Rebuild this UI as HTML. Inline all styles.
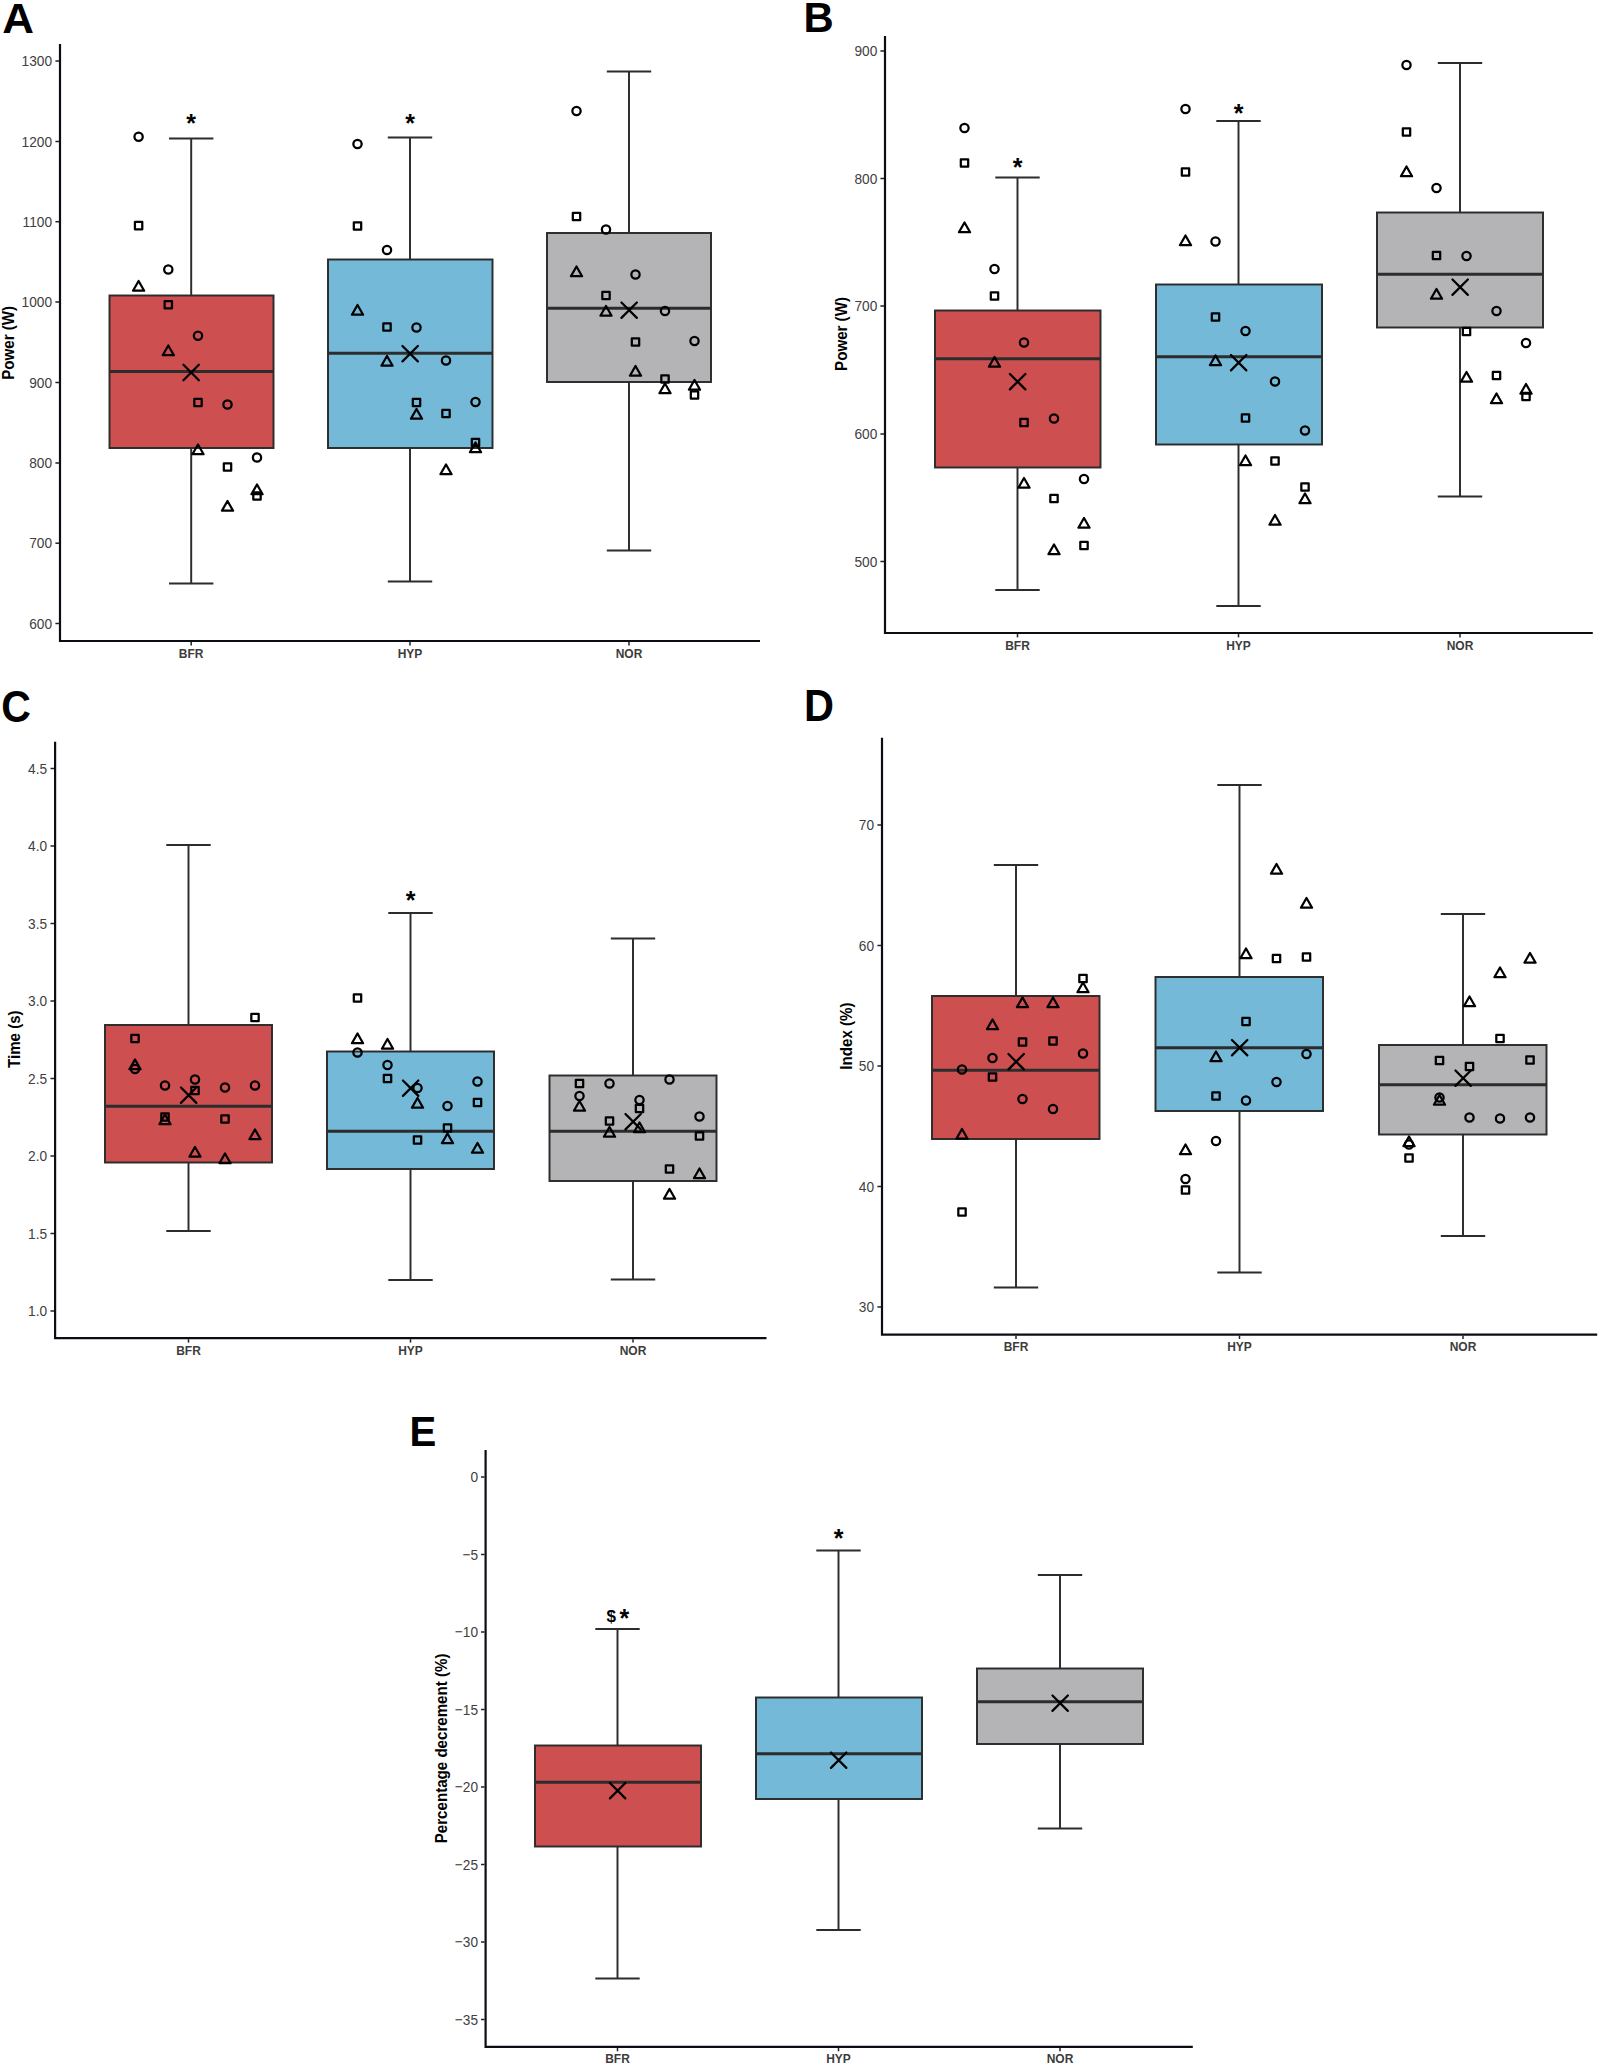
<!DOCTYPE html>
<html><head><meta charset="utf-8"><title>Figure</title>
<style>
html,body{margin:0;padding:0;background:#fff}
body{width:1600px;height:2066px;overflow:hidden}
svg{display:block;font-family:"Liberation Sans",sans-serif}
.tk{font-size:13.7px;fill:#404040}
.xl{font-size:12px;font-weight:bold;fill:#3c3c3c}
.yl{font-size:15.1px;font-weight:bold;fill:#000}
.pl{font-size:43px;font-weight:bold;fill:#000}
.an{font-size:25px;font-weight:bold;fill:#000}
.dl{font-size:17px;font-weight:bold;fill:#000}
</style></head><body>
<svg width="1600" height="2066" viewBox="0 0 1600 2066">
<rect width="1600" height="2066" fill="#fff"/>
<g fill="none" stroke="#2c2c2c" stroke-width="1.95">
<path d="M191.2 138.5V295M191.2 447.5V583.5M169.0 138.5H213.39999999999998M169.0 583.5H213.39999999999998"/>
<path d="M410 137.5V259M410 447.5V581.5M387.8 137.5H432.2M387.8 581.5H432.2"/>
<path d="M629 71.5V232.5M629 381.5V550.5M606.8 71.5H651.2M606.8 550.5H651.2"/>
</g>
<rect x="109.5" y="295.5" width="164.0" height="152.5" fill="#cd4f50" stroke="#2c2c2c" stroke-width="1.95"/>
<path d="M109.5 371.5H273.5" stroke="#2c2c2c" stroke-width="3.1" fill="none"/>
<rect x="328" y="259.5" width="164.5" height="188.5" fill="#74b9d7" stroke="#2c2c2c" stroke-width="1.95"/>
<path d="M328 353.3H492.5" stroke="#2c2c2c" stroke-width="3.1" fill="none"/>
<rect x="547" y="233.0" width="164" height="149.0" fill="#b4b4b6" stroke="#2c2c2c" stroke-width="1.95"/>
<path d="M547 308.3H711" stroke="#2c2c2c" stroke-width="3.1" fill="none"/>
<g fill="none" stroke="#000" stroke-width="2.25" stroke-linejoin="round">
<circle cx="138.6" cy="136.8" r="4.15"/>
<rect x="134.92" y="221.92" width="7.36" height="7.36"/>
<path d="M138.60 281.05L144.19 290.73L133.01 290.73Z"/>
<circle cx="168.3" cy="269.5" r="4.15"/>
<rect x="164.62" y="301.02" width="7.36" height="7.36"/>
<path d="M168.30 345.55L173.89 355.23L162.71 355.23Z"/>
<circle cx="198.0" cy="335.7" r="4.15"/>
<rect x="194.32" y="398.82" width="7.36" height="7.36"/>
<path d="M198.00 444.55L203.59 454.23L192.41 454.23Z"/>
<circle cx="227.5" cy="404.5" r="4.15"/>
<rect x="223.82" y="463.32" width="7.36" height="7.36"/>
<path d="M227.50 501.05L233.09 510.73L221.91 510.73Z"/>
<circle cx="257.0" cy="457.5" r="4.15"/>
<path d="M257.00 484.55L262.59 494.23L251.41 494.23Z"/>
<rect x="253.32" y="492.32" width="7.36" height="7.36"/>
<circle cx="357.5" cy="144.0" r="4.15"/>
<rect x="353.82" y="222.32" width="7.36" height="7.36"/>
<path d="M357.50 305.05L363.09 314.73L351.91 314.73Z"/>
<circle cx="387.0" cy="250.0" r="4.15"/>
<rect x="383.32" y="323.32" width="7.36" height="7.36"/>
<path d="M387.00 356.05L392.59 365.73L381.41 365.73Z"/>
<circle cx="416.5" cy="327.5" r="4.15"/>
<rect x="412.82" y="398.82" width="7.36" height="7.36"/>
<path d="M416.50 409.05L422.09 418.73L410.91 418.73Z"/>
<circle cx="446.0" cy="360.5" r="4.15"/>
<rect x="442.32" y="409.82" width="7.36" height="7.36"/>
<path d="M446.00 464.55L451.59 474.23L440.41 474.23Z"/>
<circle cx="475.5" cy="402.0" r="4.15"/>
<rect x="471.82" y="438.82" width="7.36" height="7.36"/>
<path d="M475.50 442.55L481.09 452.23L469.91 452.23Z"/>
<circle cx="576.5" cy="111.0" r="4.15"/>
<rect x="572.82" y="212.82" width="7.36" height="7.36"/>
<path d="M576.50 266.55L582.09 276.23L570.91 276.23Z"/>
<circle cx="606.0" cy="229.5" r="4.15"/>
<rect x="602.32" y="291.82" width="7.36" height="7.36"/>
<path d="M606.00 306.05L611.59 315.73L600.41 315.73Z"/>
<circle cx="635.5" cy="274.5" r="4.15"/>
<rect x="631.82" y="338.32" width="7.36" height="7.36"/>
<path d="M635.50 366.05L641.09 375.73L629.91 375.73Z"/>
<circle cx="665.0" cy="311.0" r="4.15"/>
<rect x="661.32" y="375.32" width="7.36" height="7.36"/>
<path d="M665.00 383.55L670.59 393.23L659.41 393.23Z"/>
<circle cx="694.5" cy="341.0" r="4.15"/>
<path d="M694.50 380.05L700.09 389.73L688.91 389.73Z"/>
<rect x="690.82" y="391.32" width="7.36" height="7.36"/>
</g>
<g fill="none" stroke="#000" stroke-width="2.25" stroke-linecap="round">
<path d="M183.45 364.80L198.85 380.20M183.45 380.20L198.85 364.80"/>
<path d="M402.45 346.00L417.85 361.40M402.45 361.40L417.85 346.00"/>
<path d="M621.45 302.50L636.85 317.90M621.45 317.90L636.85 302.50"/>
</g>
<path d="M60 44V642.1M58.9 641H760" stroke="#0c0c14" stroke-width="2.2" fill="none"/>
<g stroke="#222" stroke-width="1.5" fill="none">
<path d="M55.4 61H59"/>
<path d="M55.4 141.5H59"/>
<path d="M55.4 221.7H59"/>
<path d="M55.4 302H59"/>
<path d="M55.4 382.5H59"/>
<path d="M55.4 463H59"/>
<path d="M55.4 543.2H59"/>
<path d="M55.4 623.5H59"/>
<path d="M191.2 642V645.4"/>
<path d="M410 642V645.4"/>
<path d="M629 642V645.4"/>
</g>
<g class="tk" text-anchor="end">
<text transform="translate(52 66.2) scale(1 1.1)">1300</text>
<text transform="translate(52 146.7) scale(1 1.1)">1200</text>
<text transform="translate(52 226.9) scale(1 1.1)">1100</text>
<text transform="translate(52 307.2) scale(1 1.1)">1000</text>
<text transform="translate(52 387.7) scale(1 1.1)">900</text>
<text transform="translate(52 468.2) scale(1 1.1)">800</text>
<text transform="translate(52 548.4) scale(1 1.1)">700</text>
<text transform="translate(52 628.7) scale(1 1.1)">600</text>
</g>
<g class="xl" text-anchor="middle">
<text transform="translate(191.2 657.5) scale(1 1.06)">BFR</text>
<text transform="translate(410 657.5) scale(1 1.06)">HYP</text>
<text transform="translate(629 657.5) scale(1 1.06)">NOR</text>
</g>
<text class="yl" text-anchor="middle" transform="translate(14.4 342.8) rotate(-90) scale(1 1.13)">Power (W)</text>
<text class="pl" transform="translate(2.23 32.65) scale(1.021 1.005)">A</text>
<text class="an" text-anchor="middle" x="191" y="132.3">*</text>
<text class="an" text-anchor="middle" x="410" y="132.3">*</text>
<g fill="none" stroke="#2c2c2c" stroke-width="1.95">
<path d="M1017.5 177.5V310M1017.5 467V590M995.3 177.5H1039.7M995.3 590H1039.7"/>
<path d="M1238.5 121V284M1238.5 444V606M1216.3 121H1260.7M1216.3 606H1260.7"/>
<path d="M1460 63V212M1460 327V496.5M1437.8 63H1482.2M1437.8 496.5H1482.2"/>
</g>
<rect x="935" y="310.5" width="165.5" height="157.0" fill="#cd4f50" stroke="#2c2c2c" stroke-width="1.95"/>
<path d="M935 358.8H1100.5" stroke="#2c2c2c" stroke-width="3.1" fill="none"/>
<rect x="1156" y="284.5" width="166" height="160.0" fill="#74b9d7" stroke="#2c2c2c" stroke-width="1.95"/>
<path d="M1156 356.8H1322" stroke="#2c2c2c" stroke-width="3.1" fill="none"/>
<rect x="1377" y="212.5" width="166" height="115.0" fill="#b4b4b6" stroke="#2c2c2c" stroke-width="1.95"/>
<path d="M1377 274.3H1543" stroke="#2c2c2c" stroke-width="3.1" fill="none"/>
<g fill="none" stroke="#000" stroke-width="2.25" stroke-linejoin="round">
<circle cx="964.5" cy="128.0" r="4.15"/>
<rect x="960.82" y="159.32" width="7.36" height="7.36"/>
<path d="M964.50 222.55L970.09 232.23L958.91 232.23Z"/>
<circle cx="994.5" cy="269.0" r="4.15"/>
<rect x="990.82" y="292.32" width="7.36" height="7.36"/>
<path d="M994.50 357.05L1000.09 366.73L988.91 366.73Z"/>
<circle cx="1024.0" cy="342.5" r="4.15"/>
<rect x="1020.32" y="418.82" width="7.36" height="7.36"/>
<path d="M1024.00 478.05L1029.59 487.73L1018.41 487.73Z"/>
<circle cx="1054.0" cy="418.5" r="4.15"/>
<rect x="1050.32" y="494.82" width="7.36" height="7.36"/>
<path d="M1054.00 544.55L1059.59 554.23L1048.41 554.23Z"/>
<circle cx="1084.0" cy="479.0" r="4.15"/>
<path d="M1084.00 518.05L1089.59 527.73L1078.41 527.73Z"/>
<rect x="1080.32" y="541.82" width="7.36" height="7.36"/>
<circle cx="1185.5" cy="109.0" r="4.15"/>
<rect x="1181.82" y="168.32" width="7.36" height="7.36"/>
<path d="M1185.50 235.55L1191.09 245.23L1179.91 245.23Z"/>
<circle cx="1215.5" cy="241.5" r="4.15"/>
<rect x="1211.82" y="313.32" width="7.36" height="7.36"/>
<path d="M1215.50 355.55L1221.09 365.23L1209.91 365.23Z"/>
<circle cx="1245.5" cy="331.0" r="4.15"/>
<rect x="1241.82" y="414.32" width="7.36" height="7.36"/>
<path d="M1245.50 455.55L1251.09 465.23L1239.91 465.23Z"/>
<circle cx="1275.0" cy="381.5" r="4.15"/>
<rect x="1271.32" y="457.32" width="7.36" height="7.36"/>
<path d="M1275.00 515.05L1280.59 524.73L1269.41 524.73Z"/>
<circle cx="1305.0" cy="430.5" r="4.15"/>
<rect x="1301.32" y="483.32" width="7.36" height="7.36"/>
<path d="M1305.00 493.55L1310.59 503.23L1299.41 503.23Z"/>
<circle cx="1406.5" cy="65.0" r="4.15"/>
<rect x="1402.82" y="128.32" width="7.36" height="7.36"/>
<path d="M1406.50 166.55L1412.09 176.23L1400.91 176.23Z"/>
<circle cx="1436.5" cy="188.0" r="4.15"/>
<rect x="1432.82" y="251.82" width="7.36" height="7.36"/>
<path d="M1436.50 289.05L1442.09 298.73L1430.91 298.73Z"/>
<circle cx="1466.5" cy="256.0" r="4.15"/>
<rect x="1462.82" y="327.82" width="7.36" height="7.36"/>
<path d="M1466.50 372.05L1472.09 381.73L1460.91 381.73Z"/>
<circle cx="1496.5" cy="311.0" r="4.15"/>
<rect x="1492.82" y="371.82" width="7.36" height="7.36"/>
<path d="M1496.50 393.55L1502.09 403.23L1490.91 403.23Z"/>
<circle cx="1526.0" cy="343.0" r="4.15"/>
<path d="M1526.00 384.05L1531.59 393.73L1520.41 393.73Z"/>
<rect x="1522.32" y="392.82" width="7.36" height="7.36"/>
</g>
<g fill="none" stroke="#000" stroke-width="2.25" stroke-linecap="round">
<path d="M1009.95 374.00L1025.35 389.40M1009.95 389.40L1025.35 374.00"/>
<path d="M1230.95 355.00L1246.35 370.40M1230.95 370.40L1246.35 355.00"/>
<path d="M1452.45 279.50L1467.85 294.90M1452.45 294.90L1467.85 279.50"/>
</g>
<path d="M885.0 35.9V634.1M883.9 633H1592.8" stroke="#0c0c14" stroke-width="2.2" fill="none"/>
<g stroke="#222" stroke-width="1.5" fill="none">
<path d="M880.4 51H884.0"/>
<path d="M880.4 178.5H884.0"/>
<path d="M880.4 306H884.0"/>
<path d="M880.4 434H884.0"/>
<path d="M880.4 561.5H884.0"/>
<path d="M1017.5 634V637.4"/>
<path d="M1238.5 634V637.4"/>
<path d="M1460 634V637.4"/>
</g>
<g class="tk" text-anchor="end">
<text transform="translate(877.3 56.2) scale(1 1.1)">900</text>
<text transform="translate(877.3 183.7) scale(1 1.1)">800</text>
<text transform="translate(877.3 311.2) scale(1 1.1)">700</text>
<text transform="translate(877.3 439.2) scale(1 1.1)">600</text>
<text transform="translate(877.3 566.7) scale(1 1.1)">500</text>
</g>
<g class="xl" text-anchor="middle">
<text transform="translate(1017.5 649.5) scale(1 1.06)">BFR</text>
<text transform="translate(1238.5 649.5) scale(1 1.06)">HYP</text>
<text transform="translate(1460 649.5) scale(1 1.06)">NOR</text>
</g>
<text class="yl" text-anchor="middle" transform="translate(846.9 334) rotate(-90) scale(1 1.13)">Power (W)</text>
<text class="pl" transform="translate(803.43 32.25) scale(0.973 1.01)">B</text>
<text class="an" text-anchor="middle" x="1017.5" y="175.7">*</text>
<text class="an" text-anchor="middle" x="1238.5" y="122.2">*</text>
<g fill="none" stroke="#2c2c2c" stroke-width="1.95">
<path d="M188.5 845V1024.5M188.5 1162V1231M166.3 845H210.7M166.3 1231H210.7"/>
<path d="M410.5 913V1051M410.5 1168.5V1280M388.3 913H432.7M388.3 1280H432.7"/>
<path d="M633 938.5V1075M633 1180.5V1279.5M610.8 938.5H655.2M610.8 1279.5H655.2"/>
</g>
<rect x="105" y="1025.0" width="167" height="137.5" fill="#cd4f50" stroke="#2c2c2c" stroke-width="1.95"/>
<path d="M105 1106.3H272" stroke="#2c2c2c" stroke-width="3.1" fill="none"/>
<rect x="327" y="1051.5" width="167" height="117.5" fill="#74b9d7" stroke="#2c2c2c" stroke-width="1.95"/>
<path d="M327 1131.3H494" stroke="#2c2c2c" stroke-width="3.1" fill="none"/>
<rect x="549.5" y="1075.5" width="167.0" height="105.5" fill="#b4b4b6" stroke="#2c2c2c" stroke-width="1.95"/>
<path d="M549.5 1131.3H716.5" stroke="#2c2c2c" stroke-width="3.1" fill="none"/>
<g fill="none" stroke="#000" stroke-width="2.25" stroke-linejoin="round">
<rect x="131.32" y="1034.82" width="7.36" height="7.36"/>
<path d="M135.00 1059.55L140.59 1069.23L129.41 1069.23Z"/>
<circle cx="135.0" cy="1069.0" r="4.15"/>
<circle cx="165.0" cy="1085.5" r="4.15"/>
<rect x="161.32" y="1113.32" width="7.36" height="7.36"/>
<path d="M165.00 1114.55L170.59 1124.23L159.41 1124.23Z"/>
<circle cx="195.0" cy="1079.5" r="4.15"/>
<rect x="191.32" y="1086.82" width="7.36" height="7.36"/>
<path d="M195.00 1147.05L200.59 1156.73L189.41 1156.73Z"/>
<circle cx="225.0" cy="1087.5" r="4.15"/>
<rect x="221.32" y="1115.32" width="7.36" height="7.36"/>
<path d="M225.00 1153.55L230.59 1163.23L219.41 1163.23Z"/>
<rect x="251.32" y="1013.82" width="7.36" height="7.36"/>
<circle cx="255.0" cy="1085.5" r="4.15"/>
<path d="M255.00 1129.55L260.59 1139.23L249.41 1139.23Z"/>
<rect x="353.82" y="994.32" width="7.36" height="7.36"/>
<path d="M357.50 1033.55L363.09 1043.23L351.91 1043.23Z"/>
<circle cx="357.5" cy="1052.5" r="4.15"/>
<path d="M387.50 1039.05L393.09 1048.73L381.91 1048.73Z"/>
<circle cx="387.5" cy="1065.0" r="4.15"/>
<rect x="383.82" y="1074.82" width="7.36" height="7.36"/>
<circle cx="417.5" cy="1088.0" r="4.15"/>
<path d="M417.50 1098.05L423.09 1107.73L411.91 1107.73Z"/>
<rect x="413.82" y="1136.32" width="7.36" height="7.36"/>
<circle cx="447.5" cy="1106.0" r="4.15"/>
<rect x="443.82" y="1124.32" width="7.36" height="7.36"/>
<path d="M447.50 1133.55L453.09 1143.23L441.91 1143.23Z"/>
<circle cx="477.5" cy="1081.5" r="4.15"/>
<rect x="473.82" y="1098.82" width="7.36" height="7.36"/>
<path d="M477.50 1143.05L483.09 1152.73L471.91 1152.73Z"/>
<rect x="575.82" y="1079.82" width="7.36" height="7.36"/>
<circle cx="579.5" cy="1096.0" r="4.15"/>
<path d="M579.50 1101.05L585.09 1110.73L573.91 1110.73Z"/>
<circle cx="609.5" cy="1083.5" r="4.15"/>
<rect x="605.82" y="1117.32" width="7.36" height="7.36"/>
<path d="M609.50 1127.05L615.09 1136.73L603.91 1136.73Z"/>
<circle cx="639.5" cy="1100.0" r="4.15"/>
<rect x="635.82" y="1104.82" width="7.36" height="7.36"/>
<path d="M639.50 1122.55L645.09 1132.23L633.91 1132.23Z"/>
<circle cx="669.5" cy="1079.5" r="4.15"/>
<rect x="665.82" y="1165.32" width="7.36" height="7.36"/>
<path d="M669.50 1189.05L675.09 1198.73L663.91 1198.73Z"/>
<circle cx="699.5" cy="1116.5" r="4.15"/>
<rect x="695.82" y="1132.32" width="7.36" height="7.36"/>
<path d="M699.50 1168.55L705.09 1178.23L693.91 1178.23Z"/>
</g>
<g fill="none" stroke="#000" stroke-width="2.25" stroke-linecap="round">
<path d="M180.95 1087.50L196.35 1102.90M180.95 1102.90L196.35 1087.50"/>
<path d="M402.95 1080.50L418.35 1095.90M402.95 1095.90L418.35 1080.50"/>
<path d="M625.45 1114.00L640.85 1129.40M625.45 1129.40L640.85 1114.00"/>
</g>
<path d="M55.1 741.7V1339.3M54.0 1338.2H766.5" stroke="#0c0c14" stroke-width="2.2" fill="none"/>
<g stroke="#222" stroke-width="1.5" fill="none">
<path d="M50.5 768.5H54.1"/>
<path d="M50.5 846H54.1"/>
<path d="M50.5 923.5H54.1"/>
<path d="M50.5 1001H54.1"/>
<path d="M50.5 1078.5H54.1"/>
<path d="M50.5 1156H54.1"/>
<path d="M50.5 1233.5H54.1"/>
<path d="M50.5 1311H54.1"/>
<path d="M188.5 1339.2V1342.6000000000001"/>
<path d="M410.5 1339.2V1342.6000000000001"/>
<path d="M633 1339.2V1342.6000000000001"/>
</g>
<g class="tk" text-anchor="end">
<text transform="translate(47.1 773.7) scale(1 1.1)">4.5</text>
<text transform="translate(47.1 851.2) scale(1 1.1)">4.0</text>
<text transform="translate(47.1 928.7) scale(1 1.1)">3.5</text>
<text transform="translate(47.1 1006.2) scale(1 1.1)">3.0</text>
<text transform="translate(47.1 1083.7) scale(1 1.1)">2.5</text>
<text transform="translate(47.1 1161.2) scale(1 1.1)">2.0</text>
<text transform="translate(47.1 1238.7) scale(1 1.1)">1.5</text>
<text transform="translate(47.1 1316.2) scale(1 1.1)">1.0</text>
</g>
<g class="xl" text-anchor="middle">
<text transform="translate(188.5 1354.5) scale(1 1.06)">BFR</text>
<text transform="translate(410.5 1354.5) scale(1 1.06)">HYP</text>
<text transform="translate(633 1354.5) scale(1 1.06)">NOR</text>
</g>
<text class="yl" text-anchor="middle" transform="translate(20.4 1039.2) rotate(-90) scale(1 1.13)">Time (s)</text>
<text class="pl" transform="translate(1.14 722.34) scale(0.954 1.028)">C</text>
<text class="an" text-anchor="middle" x="410.5" y="909.2">*</text>
<g fill="none" stroke="#2c2c2c" stroke-width="1.95">
<path d="M1016 865V995.5M1016 1138.5V1287.5M993.8 865H1038.2M993.8 1287.5H1038.2"/>
<path d="M1239.5 785V976.5M1239.5 1110.5V1272.5M1217.3 785H1261.7M1217.3 1272.5H1261.7"/>
<path d="M1463 914V1044.5M1463 1134V1236M1440.8 914H1485.2M1440.8 1236H1485.2"/>
</g>
<rect x="932" y="996.0" width="167.5" height="143.0" fill="#cd4f50" stroke="#2c2c2c" stroke-width="1.95"/>
<path d="M932 1070.3H1099.5" stroke="#2c2c2c" stroke-width="3.1" fill="none"/>
<rect x="1155.5" y="977.0" width="167.5" height="134.0" fill="#74b9d7" stroke="#2c2c2c" stroke-width="1.95"/>
<path d="M1155.5 1047.8H1323" stroke="#2c2c2c" stroke-width="3.1" fill="none"/>
<rect x="1379" y="1045.0" width="167.5" height="89.5" fill="#b4b4b6" stroke="#2c2c2c" stroke-width="1.95"/>
<path d="M1379 1084.8H1546.5" stroke="#2c2c2c" stroke-width="3.1" fill="none"/>
<g fill="none" stroke="#000" stroke-width="2.25" stroke-linejoin="round">
<circle cx="962.0" cy="1069.5" r="4.15"/>
<path d="M962.00 1129.05L967.59 1138.73L956.41 1138.73Z"/>
<rect x="958.32" y="1208.32" width="7.36" height="7.36"/>
<path d="M992.50 1019.55L998.09 1029.23L986.91 1029.23Z"/>
<circle cx="992.5" cy="1058.0" r="4.15"/>
<rect x="988.82" y="1073.32" width="7.36" height="7.36"/>
<path d="M1022.50 997.55L1028.09 1007.23L1016.91 1007.23Z"/>
<rect x="1018.82" y="1038.32" width="7.36" height="7.36"/>
<circle cx="1022.5" cy="1099.0" r="4.15"/>
<path d="M1053.00 997.55L1058.59 1007.23L1047.41 1007.23Z"/>
<rect x="1049.32" y="1037.32" width="7.36" height="7.36"/>
<circle cx="1053.0" cy="1109.0" r="4.15"/>
<rect x="1079.32" y="974.82" width="7.36" height="7.36"/>
<path d="M1083.00 982.55L1088.59 992.23L1077.41 992.23Z"/>
<circle cx="1083.0" cy="1053.5" r="4.15"/>
<path d="M1185.50 1144.55L1191.09 1154.23L1179.91 1154.23Z"/>
<circle cx="1185.5" cy="1179.0" r="4.15"/>
<rect x="1181.82" y="1186.32" width="7.36" height="7.36"/>
<path d="M1216.00 1051.55L1221.59 1061.23L1210.41 1061.23Z"/>
<rect x="1212.32" y="1092.32" width="7.36" height="7.36"/>
<circle cx="1216.0" cy="1141.0" r="4.15"/>
<path d="M1246.00 948.55L1251.59 958.23L1240.41 958.23Z"/>
<rect x="1242.32" y="1017.82" width="7.36" height="7.36"/>
<circle cx="1246.0" cy="1100.5" r="4.15"/>
<path d="M1276.50 864.05L1282.09 873.73L1270.91 873.73Z"/>
<rect x="1272.82" y="954.82" width="7.36" height="7.36"/>
<circle cx="1276.5" cy="1082.0" r="4.15"/>
<path d="M1306.50 898.05L1312.09 907.73L1300.91 907.73Z"/>
<rect x="1302.82" y="953.32" width="7.36" height="7.36"/>
<circle cx="1306.5" cy="1054.0" r="4.15"/>
<path d="M1409.00 1136.55L1414.59 1146.23L1403.41 1146.23Z"/>
<circle cx="1409.0" cy="1144.5" r="4.15"/>
<rect x="1405.32" y="1154.32" width="7.36" height="7.36"/>
<rect x="1435.82" y="1056.82" width="7.36" height="7.36"/>
<circle cx="1439.5" cy="1097.5" r="4.15"/>
<path d="M1439.50 1095.05L1445.09 1104.73L1433.91 1104.73Z"/>
<path d="M1469.50 996.55L1475.09 1006.23L1463.91 1006.23Z"/>
<rect x="1465.82" y="1062.82" width="7.36" height="7.36"/>
<circle cx="1469.5" cy="1117.5" r="4.15"/>
<path d="M1500.00 967.55L1505.59 977.23L1494.41 977.23Z"/>
<rect x="1496.32" y="1034.82" width="7.36" height="7.36"/>
<circle cx="1500.0" cy="1118.5" r="4.15"/>
<path d="M1530.00 953.05L1535.59 962.73L1524.41 962.73Z"/>
<rect x="1526.32" y="1056.32" width="7.36" height="7.36"/>
<circle cx="1530.0" cy="1117.5" r="4.15"/>
</g>
<g fill="none" stroke="#000" stroke-width="2.25" stroke-linecap="round">
<path d="M1008.45 1054.00L1023.85 1069.40M1008.45 1069.40L1023.85 1054.00"/>
<path d="M1231.95 1040.00L1247.35 1055.40M1231.95 1055.40L1247.35 1040.00"/>
<path d="M1455.45 1070.50L1470.85 1085.90M1455.45 1085.90L1470.85 1070.50"/>
</g>
<path d="M882 737.8V1335.6999999999998M880.9 1334.6H1597.2" stroke="#0c0c14" stroke-width="2.2" fill="none"/>
<g stroke="#222" stroke-width="1.5" fill="none">
<path d="M877.4 825H881"/>
<path d="M877.4 945.5H881"/>
<path d="M877.4 1066H881"/>
<path d="M877.4 1186.5H881"/>
<path d="M877.4 1307H881"/>
<path d="M1016 1335.6V1339.0"/>
<path d="M1239.5 1335.6V1339.0"/>
<path d="M1463 1335.6V1339.0"/>
</g>
<g class="tk" text-anchor="end">
<text transform="translate(874 830.2) scale(1 1.1)">70</text>
<text transform="translate(874 950.7) scale(1 1.1)">60</text>
<text transform="translate(874 1071.2) scale(1 1.1)">50</text>
<text transform="translate(874 1191.7) scale(1 1.1)">40</text>
<text transform="translate(874 1312.2) scale(1 1.1)">30</text>
</g>
<g class="xl" text-anchor="middle">
<text transform="translate(1016 1351) scale(1 1.06)">BFR</text>
<text transform="translate(1239.5 1351) scale(1 1.06)">HYP</text>
<text transform="translate(1463 1351) scale(1 1.06)">NOR</text>
</g>
<text class="yl" text-anchor="middle" transform="translate(852.2 1036.1) rotate(-90) scale(1 1.13)">Index (%)</text>
<text class="pl" transform="translate(803.95 721.35) scale(0.965 1.012)">D</text>
<g fill="none" stroke="#2c2c2c" stroke-width="1.95">
<path d="M617.5 1629V1745M617.5 1846V1978.5M595.3 1629H639.7M595.3 1978.5H639.7"/>
<path d="M838.5 1550.5V1697M838.5 1798.5V1930M816.3 1550.5H860.7M816.3 1930H860.7"/>
<path d="M1060 1575V1668M1060 1743.5V1828.5M1037.8 1575H1082.2M1037.8 1828.5H1082.2"/>
</g>
<rect x="535" y="1745.5" width="166" height="101.0" fill="#cd4f50" stroke="#2c2c2c" stroke-width="1.95"/>
<path d="M535 1782.3H701" stroke="#2c2c2c" stroke-width="3.1" fill="none"/>
<rect x="756" y="1697.5" width="166" height="101.5" fill="#74b9d7" stroke="#2c2c2c" stroke-width="1.95"/>
<path d="M756 1753.8H922" stroke="#2c2c2c" stroke-width="3.1" fill="none"/>
<rect x="977" y="1668.5" width="166" height="75.5" fill="#b4b4b6" stroke="#2c2c2c" stroke-width="1.95"/>
<path d="M977 1701.8H1143" stroke="#2c2c2c" stroke-width="3.1" fill="none"/>
<g fill="none" stroke="#000" stroke-width="2.25" stroke-linejoin="round">
</g>
<g fill="none" stroke="#000" stroke-width="2.25" stroke-linecap="round">
<path d="M609.95 1783.00L625.35 1798.40M609.95 1798.40L625.35 1783.00"/>
<path d="M830.95 1752.50L846.35 1767.90M830.95 1767.90L846.35 1752.50"/>
<path d="M1052.45 1695.50L1067.85 1710.90M1052.45 1710.90L1067.85 1695.50"/>
</g>
<path d="M485.6 1450V2048.0M484.5 2046.9H1192.8" stroke="#0c0c14" stroke-width="2.2" fill="none"/>
<g stroke="#222" stroke-width="1.5" fill="none">
<path d="M481.0 1477H484.6"/>
<path d="M481.0 1554.5H484.6"/>
<path d="M481.0 1632H484.6"/>
<path d="M481.0 1709.5H484.6"/>
<path d="M481.0 1787H484.6"/>
<path d="M481.0 1864.5H484.6"/>
<path d="M481.0 1942H484.6"/>
<path d="M481.0 2019.5H484.6"/>
<path d="M617.5 2047.9V2051.3"/>
<path d="M838.5 2047.9V2051.3"/>
<path d="M1060 2047.9V2051.3"/>
</g>
<g class="tk" text-anchor="end">
<text transform="translate(478.1 1482.2) scale(1 1.1)">0</text>
<text transform="translate(478.1 1559.7) scale(1 1.1)">−5</text>
<text transform="translate(478.1 1637.2) scale(1 1.1)">−10</text>
<text transform="translate(478.1 1714.7) scale(1 1.1)">−15</text>
<text transform="translate(478.1 1792.2) scale(1 1.1)">−20</text>
<text transform="translate(478.1 1869.7) scale(1 1.1)">−25</text>
<text transform="translate(478.1 1947.2) scale(1 1.1)">−30</text>
<text transform="translate(478.1 2024.7) scale(1 1.1)">−35</text>
</g>
<g class="xl" text-anchor="middle">
<text transform="translate(617.5 2063) scale(1 1.06)">BFR</text>
<text transform="translate(838.5 2063) scale(1 1.06)">HYP</text>
<text transform="translate(1060 2063) scale(1 1.06)">NOR</text>
</g>
<text class="yl" text-anchor="middle" transform="translate(447.2 1748.4) rotate(-90) scale(1 1.13)">Percentage decrement (%)</text>
<text class="pl" transform="translate(409.45 1445.65) scale(0.933 1.0)">E</text>
<text class="an" text-anchor="middle" x="624.4" y="1627.3">*</text>
<text class="dl" text-anchor="middle" x="611.2" y="1622">$</text>
<text class="an" text-anchor="middle" x="838.5" y="1546.7">*</text>
</svg>
</body></html>
